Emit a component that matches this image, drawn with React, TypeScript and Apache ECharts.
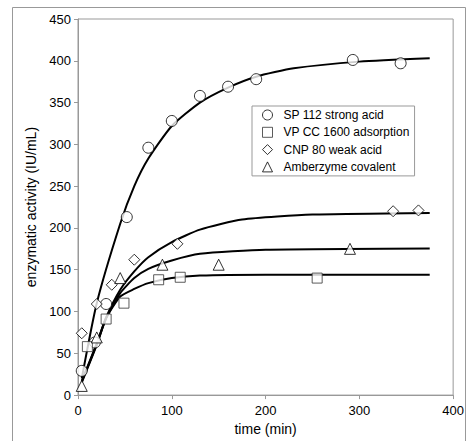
import React, { useEffect, useRef } from "react";
import * as echarts from "echarts";

const seriesNames = [
  "SP 112 strong acid",
  "VP CC 1600 adsorption",
  "CNP 80 weak acid",
  "Amberzyme covalent",
];

// measured points [time (min), activity (IU/mL)]
const spPoints = [[4, 29], [18, 63], [30, 109], [52, 213], [75, 296], [100, 328], [130, 358], [160, 369], [190, 378], [293, 401], [344, 397]];
const vpPoints = [[10, 58], [30, 91], [49, 110], [86, 138], [109, 141], [255, 140]];
const cnpPoints = [[4, 74], [20, 109], [36, 132], [60, 162], [106, 181], [336, 220], [363, 221]];
const amberPoints = [[4, 11], [20, 69], [45, 140], [90, 156], [150, 156], [290, 175]];

// fitted curves
const spFit = [[4, 20], [20, 110], [45, 205], [60, 250], [75, 283], [100, 322], [130, 350], [160, 368], [190, 381], [230, 391], [300, 399], [375, 403]];
const vpFit = [[4, 16], [20, 61], [30, 92], [45, 118], [60, 127], [75, 134], [100, 140], [130, 143], [200, 144], [375, 144]];
const cnpFit = [[4, 17], [20, 62], [30, 93], [45, 126], [60, 148], [75, 165], [100, 183], [130, 198], [175, 210], [250, 216], [375, 218]];
const amberFit = [[4, 15], [20, 60], [30, 92], [45, 122], [60, 140], [75, 151], [100, 161], [130, 169], [200, 174], [375, 175.5]];

const symbols = ["circle", "rect", "diamond", "triangle"];
const pointSets = [spPoints, vpPoints, cnpPoints, amberPoints];
const fitSets = [spFit, vpFit, cnpFit, amberFit];

const FONT = "'Liberation Sans', Arial, sans-serif";

export default function App() {
  const ref = useRef<HTMLDivElement>(null);
  useEffect(() => {
    if (!ref.current) return;
    const chart = echarts.init(ref.current, null, { renderer: "svg" });
    const lineSeries = fitSets.map((d, i) => ({
      type: "line",
      name: seriesNames[i] + " fit",
      data: d,
      showSymbol: false,
      symbol: "none",
      smooth: 0.2,
      lineStyle: { color: "#000", width: 2 },
      z: 2,
      silent: true,
    }));
    const scatterSeries = pointSets.map((d, i) => ({
      type: "scatter",
      name: seriesNames[i],
      data: d,
      symbol: symbols[i],
      symbolSize: i === 1 ? 10 : 11,
      itemStyle: { color: "#fff", borderColor: i === 1 ? "#333" : "#000", borderWidth: 1 },
      z: 5,
    }));
    chart.setOption({
      animation: false,
      backgroundColor: "#fff",
      textStyle: { fontFamily: FONT, color: "#000" },
      graphic: [
        {
          type: "rect",
          shape: { x: 12.5, y: 7.5, width: 453, height: 445 },
          style: { fill: "none", stroke: "#999", lineWidth: 1 },
          silent: true,
          z: -1,
        },
      ],
      grid: {
        left: 78,
        right: 12,
        top: 19,
        bottom: 42,
        show: true,
        borderColor: "#999",
        borderWidth: 1,
        backgroundColor: "transparent",
      },
      legend: {
        data: seriesNames,
        orient: "vertical",
        left: 252,
        top: 106,
        padding: [2, 5, 2, 10],
        itemWidth: 10,
        itemHeight: 10,
        itemGap: 3.3,
        backgroundColor: "#fff",
        borderColor: "#999",
        borderWidth: 1,
        borderRadius: 0,
        itemStyle: { borderWidth: 1 },
        textStyle: { fontFamily: FONT, fontSize: 12, color: "#000", lineHeight: 14, padding: [0, 0, 0, 6] },
        selectedMode: false,
      },
      xAxis: {
        type: "value",
        min: 0,
        max: 400,
        interval: 100,
        name: "time (min)",
        nameLocation: "middle",
        nameGap: 21,
        nameTextStyle: { fontFamily: FONT, fontSize: 14, color: "#000" },
        axisLine: { show: true, lineStyle: { color: "#999" } },
        axisTick: { show: true, length: 4, lineStyle: { color: "#999" } },
        axisLabel: { fontFamily: FONT, fontSize: 13, color: "#000", margin: 9 },
        splitLine: { show: false },
      },
      yAxis: {
        type: "value",
        min: 0,
        max: 450,
        interval: 50,
        name: "enzymatic activity (IU/mL)",
        nameLocation: "middle",
        nameGap: 38,
        nameTextStyle: { fontFamily: FONT, fontSize: 14, color: "#000" },
        axisLine: { show: true, lineStyle: { color: "#999" } },
        axisTick: { show: true, length: 4, lineStyle: { color: "#999" } },
        axisLabel: { fontFamily: FONT, fontSize: 13, color: "#000", margin: 7 },
        splitLine: { show: false },
      },
      series: [...lineSeries, ...scatterSeries],
    });
    return () => chart.dispose();
  }, []);
  return (
    <div
      ref={ref}
      style={{ position: "absolute", left: 0, top: 0, width: 467, height: 441 }}
    />
  );
}
